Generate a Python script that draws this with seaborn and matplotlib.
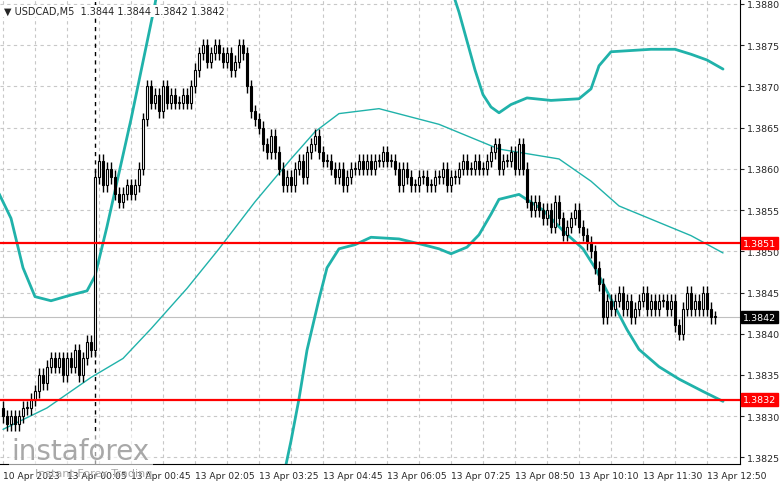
import matplotlib
matplotlib.use("Agg")
import matplotlib.pyplot as plt
import seaborn as sns
import numpy as np
import pandas as pd

closes = [1.3830,1.3829,1.3830,1.3829,1.3830,1.3831,1.3831,1.3832,
 1.3833,1.3835,1.3834,1.3836,1.3837,1.3836,1.3837,1.3835,1.3837,1.3836,1.3838,1.3835,1.3837,1.3839,
 1.3838,1.3859,
 1.3861,1.3858,1.3860,1.3859,1.3857,1.3856,1.3857,1.3858,1.3857,
 1.3858,1.3860,1.3866,
 1.3870,1.3868,1.3869,1.3867,1.3870,1.3868,1.3869,1.3868,1.3868,1.3869,1.3868,1.3870,
 1.3872,1.3874,1.3875,1.3873,1.3874,1.3875,1.3874,1.3873,1.3874,1.3872,1.3873,1.3875,1.3874,
 1.3870,1.3867,1.3866,1.3865,1.3863,1.3862,1.3864,1.3862,
 1.3860,1.3858,1.3859,1.3858,1.3860,1.3861,1.3859,1.3862,
 1.3863,1.3864,1.3862,1.3861,1.3861,1.3860,
 1.3859,1.3860,1.3858,1.3859,1.3860,1.3860,1.3861,1.3860,
 1.3861,1.3860,1.3861,1.3861,1.3862,1.3861,1.3861,
 1.3860,1.3858,1.3860,1.3859,1.3858,1.3858,1.3859,1.3859,1.3858,1.3858,1.3859,1.3859,1.3860,1.3858,1.3859,1.3859,1.3860,1.3861,1.3860,1.3860,1.3861,1.3860,1.3860,
 1.3861,1.3862,1.3863,1.3860,1.3861,1.3861,1.3862,1.3860,1.3863,1.3860,1.3856,1.3855,1.3856,
 1.3855,1.3854,1.3855,1.3853,1.3856,1.3854,1.3852,1.3853,1.3854,1.3855,1.3853,1.3852,1.3851,1.3850,
 1.3848,1.3846,1.3842,
 1.3844,1.3843,1.3844,1.3845,1.3843,1.3844,1.3842,1.3843,1.3844,1.3845,1.3843,1.3844,1.3843,1.3844,1.3844,
 1.3843,1.3844,1.3841,1.3840,1.3843,1.3845,1.3843,1.3844,1.3843,1.3845,1.3843,1.3842,1.3842]
first_open = 1.3831
wick = 0.00008

mid_idx = [0, 11, 22, 30, 37, 46, 54, 63, 72, 78, 84, 94, 109, 124, 139, 147, 154, 163, 172, 180]
mid_val = [1.38284,1.38310,1.38347,1.38370,1.38406,1.38455,1.38503,1.38560,1.38612,1.38645,1.38667,1.38673,1.38654,1.38624,1.38612,1.38585,1.38555,1.38537,1.38519,1.38498]
up1_idx = [-1, 2, 5, 8, 12, 17, 21, 23, 26, 29, 32, 35, 38, 41]
up1_val = [1.38570,1.38540,1.38480,1.38445,1.38440,1.38447,1.38452,1.38470,1.38530,1.38595,1.38660,1.38730,1.38800,1.38880]
up2_idx = [112, 114, 116, 118, 120, 122, 124, 127, 131, 137, 144, 147, 149, 152, 162, 168, 172, 176, 180]
up2_val = [1.38820,1.38790,1.38755,1.38720,1.38690,1.38675,1.38668,1.38678,1.38686,1.38683,1.38685,1.38697,1.38725,1.38742,1.38745,1.38745,1.38739,1.38732,1.38721]
lo_idx = [70, 72, 74, 76, 79, 81, 84, 88, 92, 99, 105, 109, 112, 116, 119, 122, 124, 129, 135, 140, 145, 148, 152, 156, 159, 164, 169, 175, 180]
lo_val = [1.38224,1.38270,1.38321,1.38380,1.38442,1.38480,1.38503,1.38508,1.38517,1.38515,1.38508,1.38503,1.38497,1.38505,1.38520,1.38545,1.38563,1.38569,1.38550,1.38525,1.38503,1.38480,1.38442,1.38405,1.38381,1.38360,1.38345,1.38330,1.38318]

levels = [1.3851, 1.3832]
last_price = 1.3842
yticks = [1.3825,1.3830,1.3835,1.3840,1.3845,1.3850,1.3855,1.3860,1.3865,1.3870,1.3875,1.3880]
xtick_idx = [0,16,32,48,64,80,96,112,128,144,160,176]
xtick_lab = ["10 Apr 2023","13 Apr 00:05","13 Apr 00:45","13 Apr 02:05","13 Apr 03:25","13 Apr 04:45",
             "13 Apr 06:05","13 Apr 07:25","13 Apr 08:50","13 Apr 10:10","13 Apr 11:30","13 Apr 12:50"]

sns.set_style("white")
fig = plt.figure(figsize=(7.81, 4.89), dpi=100)
ax = fig.add_axes([0.0, 24/489, 740/781, 465/489])
teal = "#20b2aa"

opens = [first_open] + closes[:-1]
n = len(closes)
idx = np.arange(n)
df = pd.DataFrame({"i": idx, "o": opens, "c": closes})
df["lo_b"] = df[["o", "c"]].min(axis=1)
df["hi_b"] = df[["o", "c"]].max(axis=1)
for _, r in df.iterrows():
    ax.vlines(r.i, r.lo_b - wick, r.hi_b + wick, color="black", lw=1, zorder=3)
    h = max(r.hi_b - r.lo_b, 0.000012)
    fc = "white" if r.c >= r.o else "black"
    ax.bar(r.i, h, bottom=r.lo_b, width=0.55, color=fc, edgecolor="black", lw=0.8, zorder=4)

sns.lineplot(x=mid_idx, y=mid_val, ax=ax, color=teal, lw=1, zorder=2)
for xs, ys in [(up1_idx, up1_val), (up2_idx, up2_val), (lo_idx, lo_val)]:
    sns.lineplot(x=xs, y=ys, ax=ax, color=teal, lw=2, zorder=2)

for lv in levels:
    ax.axhline(lv, color="red", lw=1.6, zorder=5)
ax.axhline(last_price, color="#c0c0c0", lw=0.8, zorder=1)
ax.axvline(23, color="black", lw=1, ls=(0, (3, 3)), zorder=1)

ax.set_xlim(-0.75, 184.25)
ax.set_ylim(1.38242, 1.38806)
ax.set_yticks(yticks)
ax.yaxis.tick_right()
ax.set_yticklabels([f"{v:.4f}" for v in yticks], fontsize=6.8)
ax.set_xticks(xtick_idx)
ax.set_xticklabels(xtick_lab, fontsize=6.6, ha="left")
ax.tick_params(length=3, pad=2)
ax.set_xticks(np.arange(0, 184, 8), minor=True)
ax.tick_params(which="minor", length=0)
ax.grid(True, which="both", axis="x", color="#c8c8c8", ls=(0, (3, 3)), lw=0.8)
ax.grid(True, which="major", axis="y", color="#c8c8c8", ls=(0, (3, 3)), lw=0.8)
for s in ["top", "left"]:
    ax.spines[s].set_visible(False)
ax.spines["right"].set_color("black")
ax.spines["bottom"].set_color("black")

for lv in levels:
    ax.text(1.004, lv, f"{lv:.4f}", transform=ax.get_yaxis_transform(), fontsize=6.8, color="white",
            va="center", ha="left", bbox=dict(fc="red", ec="red", pad=1.2), zorder=6, clip_on=False)
ax.text(1.004, last_price, f"{last_price:.4f}", transform=ax.get_yaxis_transform(), fontsize=6.8, color="white",
        va="center", ha="left", bbox=dict(fc="black", ec="black", pad=1.2), zorder=6, clip_on=False)

ax.text(0.005, 0.985, "\u25bc USDCAD,M5  1.3844 1.3844 1.3842 1.3842", transform=ax.transAxes,
        fontsize=7, va="top", ha="left", bbox=dict(fc="white", ec="none", pad=1))
fig.text(0.015, 0.06, "instaforex", fontsize=20, color="#a8a8a8", zorder=10,
         bbox=dict(fc="white", ec="none", alpha=0.6, pad=2))
fig.text(0.045, 0.025, "Instant Forex Trading", fontsize=8, color="#a8a8a8", zorder=10)

fig.savefig("out.png", dpi=100)
